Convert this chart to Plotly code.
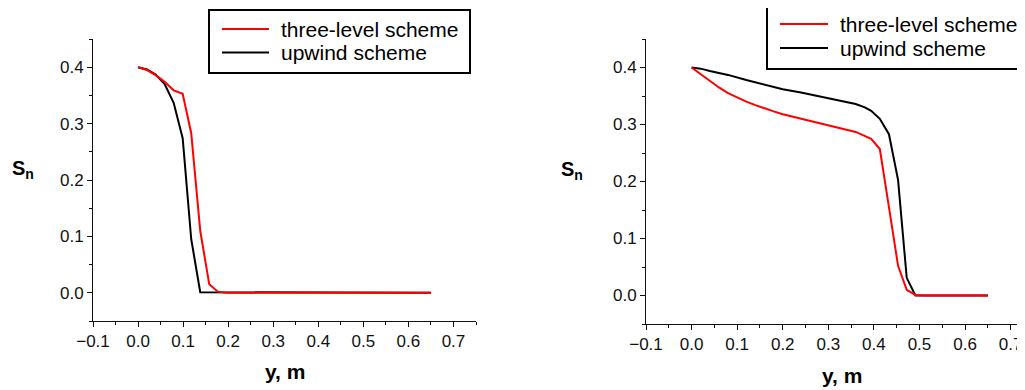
import plotly.graph_objects as go

# ---- data ----
series_names = ["three-level scheme", "upwind scheme"]
series_colors = ["#ff0000", "#000000"]

# left panel
left_x_three = [0, 0.02, 0.039, 0.059, 0.079, 0.099, 0.118, 0.138, 0.158, 0.177, 0.197, 0.65]
left_y_three = [0.400, 0.395, 0.386, 0.374, 0.359, 0.353, 0.283, 0.110, 0.015, 0.002, 0.0, 0.0]
left_x_upwind = [0, 0.02, 0.039, 0.059, 0.079, 0.099, 0.118, 0.138, 0.65]
left_y_upwind = [0.400, 0.396, 0.387, 0.370, 0.337, 0.274, 0.095, 0.001, 0.0]

# right panel
right_x_three = [0, 0.02, 0.04, 0.06, 0.08, 0.10, 0.12, 0.14, 0.16, 0.18, 0.20, 0.24, 0.28,
                 0.32, 0.36, 0.394, 0.413, 0.433, 0.453, 0.472, 0.491, 0.51, 0.65]
right_y_three = [0.400, 0.388, 0.376, 0.365, 0.355, 0.347, 0.340, 0.334, 0.328, 0.323, 0.318,
                 0.310, 0.302, 0.295, 0.287, 0.275, 0.257, 0.155, 0.052, 0.010, 0.001, 0.0, 0.0]
right_x_upwind = [0, 0.02, 0.04, 0.08, 0.12, 0.16, 0.20, 0.24, 0.28, 0.32, 0.36, 0.38, 0.394,
                  0.413, 0.433, 0.453, 0.472, 0.491, 0.65]
right_y_upwind = [0.400, 0.398, 0.394, 0.387, 0.378, 0.370, 0.362, 0.356, 0.349, 0.343, 0.336,
                  0.330, 0.324, 0.310, 0.283, 0.203, 0.031, 0.0, 0.0]

x_tick_vals = [-0.1, 0.0, 0.1, 0.2, 0.3, 0.4, 0.5, 0.6, 0.7]
y_tick_vals = [0.0, 0.1, 0.2, 0.3, 0.4]

x_title = "y, m"
y_title = "S<sub>n</sub>"

# page body has an 8px margin: figure sized to fit the 1025x390 window
OFF = 8
W, H = 1025 - OFF, 390 - OFF
FONT = "Liberation Sans, Arial, sans-serif"
AX = "#111111"


def fx(px):
    return (px - OFF) / W


def fy(py):
    return 1 - (py - OFF) / H


fig = go.Figure()

panels = [
    ("x", "y", [left_x_three, left_x_upwind], [left_y_three, left_y_upwind]),
    ("x2", "y2", [right_x_three, right_x_upwind], [right_y_three, right_y_upwind]),
]
for xa, ya, xs, ys in panels:
    # upwind first (underneath), three-level on top
    for i in (1, 0):
        fig.add_trace(go.Scatter(x=xs[i], y=ys[i], mode="lines", name=series_names[i],
                                 line=dict(color=series_colors[i], width=2),
                                 xaxis=xa, yaxis=ya, showlegend=False))


def axis(domain, rng, anchor, tickvals):
    return dict(domain=domain, range=rng, anchor=anchor, showline=True, linecolor=AX,
                linewidth=1, ticks="outside", ticklen=5, tickwidth=1, tickcolor=AX,
                tickvals=tickvals, tickformat=".1f", showgrid=False, zeroline=False,
                tickfont=dict(family=FONT, size=17, color=AX),
                minor=dict(dtick=0.05, tick0=0, ticks="outside", ticklen=3, tickcolor=AX,
                           showgrid=False))


fig.update_layout(
    width=W, height=H,
    margin=dict(l=0, r=0, t=0, b=0, autoexpand=False),
    paper_bgcolor="white", plot_bgcolor="white",
    showlegend=False,
    xaxis=axis([fx(93), fx(476)], [-0.1, 0.75], "y", x_tick_vals),
    yaxis=axis([fy(321), fy(39)], [-0.05, 0.45], "x", y_tick_vals),
    xaxis2=axis([fx(646), 1.0], [-0.1, 0.7315], "y2", x_tick_vals),
    yaxis2=axis([fy(324), fy(39)], [-0.05, 0.45], "x2", y_tick_vals),
)

shapes = []
annotations = []

# legends (box, line samples, labels) for both panels
legend_boxes = [
    dict(x0=209, x1=470, y0=10, y1=73, lx0=222, lx1=269, ly=[29, 52.5], tx=279),
    dict(x0=767, x1=1028, y0=5, y1=69, lx0=780, lx1=828, ly=[24, 48], tx=838),
]
for lb in legend_boxes:
    shapes.append(dict(type="rect", xref="paper", yref="paper",
                       x0=fx(lb["x0"]), x1=fx(lb["x1"]), y0=fy(lb["y0"]), y1=fy(lb["y1"]),
                       line=dict(color="#000000", width=2), fillcolor="white", layer="above"))
    for i in range(2):
        shapes.append(dict(type="line", xref="paper", yref="paper",
                           x0=fx(lb["lx0"]), x1=fx(lb["lx1"]),
                           y0=fy(lb["ly"][i]), y1=fy(lb["ly"][i]),
                           line=dict(color=series_colors[i], width=2), layer="above"))
        annotations.append(dict(text=series_names[i], x=fx(lb["tx"]), y=fy(lb["ly"][i]),
                                xref="paper", yref="paper", xanchor="left", yanchor="middle",
                                showarrow=False,
                                font=dict(family=FONT, size=21, color="#000000")))

# axis titles
annotations += [
    dict(text="<b>" + x_title + "</b>", x=fx(284.5), y=fy(371), xref="paper", yref="paper",
         xanchor="center", yanchor="middle", showarrow=False,
         font=dict(family=FONT, size=21, color="#000000")),
    dict(text="<b>" + x_title + "</b>", x=fx(842), y=fy(375), xref="paper", yref="paper",
         xanchor="center", yanchor="middle", showarrow=False,
         font=dict(family=FONT, size=21, color="#000000")),
    dict(text="<b>" + y_title + "</b>", x=fx(10), y=fy(155), xref="paper", yref="paper",
         xanchor="left", yanchor="top", showarrow=False,
         font=dict(family=FONT, size=20, color="#000000")),
    dict(text="<b>" + y_title + "</b>", x=fx(559), y=fy(156), xref="paper", yref="paper",
         xanchor="left", yanchor="top", showarrow=False,
         font=dict(family=FONT, size=20, color="#000000")),
]

fig.update_layout(shapes=shapes, annotations=annotations)

fig.write_html("out.html")
